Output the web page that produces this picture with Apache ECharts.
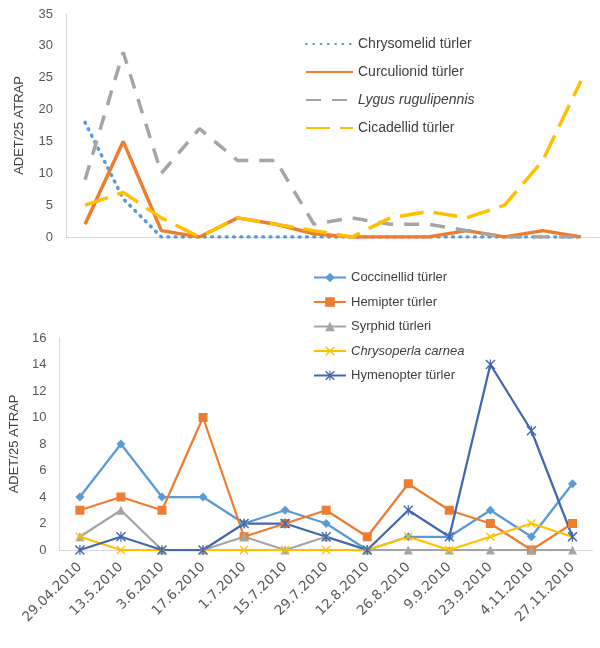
<!DOCTYPE html>
<html>
<head>
<meta charset="utf-8">
<script src="https://cdn.jsdelivr.net/npm/echarts@6/dist/echarts.min.js"></script>
<style>html,body{margin:0;padding:0;background:#fff}#c{width:600px;height:648px}</style>
</head>
<body>
<div id="c"></div>
<script>
// ---- top chart data (14 sampling dates, unlabelled) ----
var topCats = ['1','2','3','4','5','6','7','8','9','10','11','12','13','14'];
var chrysomelid = [18, 6, 0, 0, 0, 0, 0, 0, 0, 0, 0, 0, 0, 0];
var curculionid = [2, 15, 1, 0, 3, 2, 0.5, 0, 0, 0, 1, 0, 1, 0];
var lygus = [9, 29, 10, 17, 12, 12, 2, 3, 2, 2, 1, 0, 0, 0];
var cicadellid = [5, 7, 3, 0, 3, 2, 1, 0, 3, 4, 3, 5, 12, 24.5];
var topTicks = [0, 5, 10, 15, 20, 25, 30, 35];

// ---- bottom chart data ----
var dates = ['29.04.2010','13.5.2010','3.6.2010','17.6.2010','1.7.2010','15.7.2010','29.7.2010','12.8.2010','26.8.2010','9.9.2010','23.9.2010','4.11.2010','27.11.2010'];
var coccinellid = [4, 8, 4, 4, 2, 3, 2, 0, 1, 1, 3, 1, 5];
var hemipter = [3, 4, 3, 10, 1, 2, 3, 1, 5, 3, 2, 0, 2];
var syrphid = [1, 3, 0, 0, 1, 0, 1, 0, 0, 0, 0, 0, 0];
var chrysoperla = [1, 0, 0, 0, 0, 0, 0, 0, 1, 0, 1, 2, 1];
var hymenopter = [0, 1, 0, 0, 2, 2, 1, 0, 3, 1, 14, 9, 1];
var bottomTicks = [0, 2, 4, 6, 8, 10, 12, 14, 16];

var FONT = 'Liberation Sans';
var XSYM = 'path://M0,1 L1,0 L5,4 L9,0 L10,1 L6,5 L10,9 L9,10 L5,6 L1,10 L0,9 L4,5 Z';
var STAR = 'path://M0,1 L1,0 L5,4 L9,0 L10,1 L6,5 L10,9 L9,10 L5,6 L1,10 L0,9 L4,5 Z M4.4,0 L5.6,0 L5.6,10 L4.4,10 Z';

function topLine(name, data, color, type, width, cap) {
  return {
    name: name, type: 'line', xAxisIndex: 0, yAxisIndex: 0, data: data,
    symbol: 'none', color: color,
    lineStyle: { color: color, width: width, type: type, cap: cap || 'butt' },
    itemStyle: { color: color },
    animation: false
  };
}
function botLine(name, data, color, symbol, size) {
  return {
    name: name, type: 'line', xAxisIndex: 1, yAxisIndex: 1, data: data,
    symbol: symbol, symbolSize: size, showAllSymbol: true, color: color,
    lineStyle: { color: color, width: 2.25 },
    itemStyle: { color: color },
    animation: false
  };
}

var chart = echarts.init(document.getElementById('c'));
chart.setOption({
  backgroundColor: '#ffffff',
  textStyle: { fontFamily: FONT },
  grid: [
    { left: 66, top: 14, width: 537, height: 223 },
    { left: 58, top: 338, width: 535, height: 212 }
  ],
  legend: [
    {
      orient: 'vertical', left: 300, top: 32,
      itemWidth: 47, itemHeight: 14, itemGap: 14,
      itemStyle: { color: 'rgba(0,0,0,0)', borderWidth: 0 },
      data: ['Chrysomelid türler', 'Curculionid türler', 'Lygus rugulipennis', 'Cicadellid türler'],
      formatter: function (n) { return n === 'Lygus rugulipennis' ? '{i|' + n + '}' : n; },
      textStyle: { fontSize: 14, color: '#404040', fontFamily: FONT, rich: { i: { fontStyle: 'italic', fontSize: 14, color: '#404040', fontFamily: FONT } } }
    },
    {
      orient: 'vertical', left: 308, top: 266,
      itemWidth: 32, itemHeight: 12, itemGap: 11.5,
      data: ['Coccinellid türler', 'Hemipter türler', 'Syrphid türleri', 'Chrysoperla carnea', 'Hymenopter türler'],
      formatter: function (n) { return n === 'Chrysoperla carnea' ? '{i|' + n + '}' : n; },
      textStyle: { fontSize: 13, color: '#404040', fontFamily: FONT, rich: { i: { fontStyle: 'italic', fontSize: 13, color: '#404040', fontFamily: FONT } } }
    }
  ],
  xAxis: [
    {
      type: 'category', gridIndex: 0, data: topCats, boundaryGap: true,
      axisLine: { show: true, lineStyle: { color: '#D9D9D9', width: 1 } },
      axisTick: { show: false }, axisLabel: { show: false }, splitLine: { show: false }
    },
    {
      type: 'category', gridIndex: 1, data: dates, boundaryGap: true,
      axisLine: { show: true, lineStyle: { color: '#D9D9D9', width: 1 } },
      axisTick: { show: false },
      axisLabel: { rotate: 45, interval: 0, margin: 15, fontSize: 13.5, color: '#595959', fontFamily: 'DejaVu Sans' },
      splitLine: { show: false }
    }
  ],
  yAxis: [
    {
      type: 'value', gridIndex: 0, min: topTicks[0], max: topTicks[topTicks.length - 1], interval: 5,
      name: 'ADET/25 ATRAP', nameLocation: 'middle', nameGap: 40, nameRotate: 90,
      nameTextStyle: { fontSize: 13, color: '#404040', fontFamily: FONT },
      axisLine: { show: true, lineStyle: { color: '#D9D9D9' } },
      axisTick: { show: false }, splitLine: { show: false },
      axisLabel: { fontSize: 13, color: '#595959', margin: 13 }
    },
    {
      type: 'value', gridIndex: 1, min: bottomTicks[0], max: bottomTicks[bottomTicks.length - 1], interval: 2,
      name: 'ADET/25 ATRAP', nameLocation: 'middle', nameGap: 31, nameRotate: 90,
      nameTextStyle: { fontSize: 13, color: '#404040', fontFamily: FONT },
      axisLine: { show: true, lineStyle: { color: '#D9D9D9' } },
      axisTick: { show: false }, splitLine: { show: false },
      axisLabel: { fontSize: 13, color: '#595959', margin: 13 }
    }
  ],
  series: [
    topLine('Chrysomelid türler', chrysomelid, '#5B9BD5', [0.8, 6.5], 3.6, 'round'),
    topLine('Curculionid türler', curculionid, '#ED7D31', 'solid', 3.5),
    topLine('Lygus rugulipennis', lygus, '#A5A5A5', [15, 11], 3.5),
    topLine('Cicadellid türler', cicadellid, '#FFC000', [24, 10], 3.5),
    botLine('Coccinellid türler', coccinellid, '#5B9BD5', 'diamond', 9),
    botLine('Hemipter türler', hemipter, '#ED7D31', 'rect', 9),
    botLine('Syrphid türleri', syrphid, '#A5A5A5', 'triangle', 9),
    botLine('Chrysoperla carnea', chrysoperla, '#FFC000', XSYM, 9),
    botLine('Hymenopter türler', hymenopter, '#4468AE', STAR, 10)
  ]
});
</script>
</body>
</html>
